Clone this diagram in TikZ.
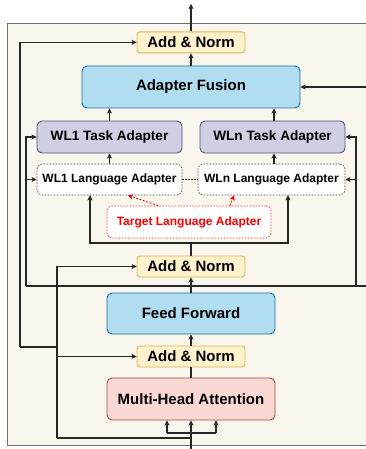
\documentclass[tikz,border=0pt]{standalone}
\usepackage{fontspec}
\setmainfont{Liberation Sans}
\usetikzlibrary{arrows.meta}
\definecolor{bgfill}{HTML}{F9F7ED}
\definecolor{bgline}{HTML}{6E6E6E}
\definecolor{normfill}{HTML}{FFF2CC}
\definecolor{normline}{HTML}{D6B656}
\definecolor{bluefill}{HTML}{B1DDF0}
\definecolor{blueline}{HTML}{10739E}
\definecolor{taskfill}{HTML}{D0CEE2}
\definecolor{taskline}{HTML}{56517E}
\definecolor{mhafill}{HTML}{FAD9D5}
\definecolor{mhaline}{HTML}{AE4132}
\definecolor{wirecol}{HTML}{262626}
\begin{document}
\begin{tikzpicture}[x=1pt,y=-1pt,
  every node/.style={inner sep=0pt},
  big/.style={font=\fontsize{15}{18}\selectfont\bfseries},
  box/.style={draw,rounded corners=5pt,line width=0.9pt},
  norm/.style={box,big,rounded corners=3pt,fill=normfill,draw=normline,minimum width=108pt,minimum height=21pt},
  bluebox/.style={box,big,fill=bluefill,draw=blueline,minimum height=42pt},
  task/.style={box,fill=taskfill,draw=taskline,minimum width=145pt,minimum height=32pt,font=\fontsize{13.6}{16}\selectfont\bfseries},
  lang/.style={box,fill=white,draw=wirecol!80,line width=0.7pt,dash pattern=on 1.6pt off 1.4pt,minimum height=31pt,font=\fontsize{12}{14}\selectfont\bfseries},
  wire/.style={line width=1.1pt,draw=wirecol},
  arr/.style={wire,-{Stealth[length=5pt,width=5pt,inset=1.2pt]}},
  redarr/.style={draw=red,line width=0.8pt,dash pattern=on 2pt off 1.5pt,-{Stealth[length=5pt,width=5pt,inset=1.2pt,fill=red]}}]
\clip (0,0) rectangle (366,449);
\fill[white] (0,0) rectangle (366,449);
\draw[bgline,fill=bgfill,line width=0.9pt] (7.5,23) rectangle (380,445);
% blocks
\node[norm] (topnorm) at (191,42.4) {Add \& Norm};
\node[bluebox,minimum width=218pt] (fusion) at (191,87) {Adapter Fusion};
\node[task] (task1) at (109.5,137) {WL1 Task Adapter};
\node[task] (taskn) at (272.5,137) {WLn Task Adapter};
\node[lang,minimum width=145pt] (lang1) at (109.5,179.5) {WL1 Language Adapter};
\node[lang,minimum width=147pt] (langn) at (271.5,179.5) {WLn Language Adapter};
\node[box,fill=white,draw=red!75,line width=0.7pt,dash pattern=on 1.6pt off 1.4pt,minimum width=164pt,minimum height=32pt,text=red,font=\fontsize{12}{14}\selectfont\bfseries] (target) at (189,222) {Target Language Adapter};
\node[norm] (midnorm) at (191,266.5) {Add \& Norm};
\node[bluebox,minimum width=168pt,minimum height=41pt] (ff) at (191,313.5) {Feed Forward};
\node[norm] (lownorm) at (191,356.5) {Add \& Norm};
\node[box,big,fill=mhafill,draw=mhaline,minimum width=168pt,minimum height=42pt] (mha) at (191,399) {Multi-Head Attention};
% wire corners
\coordinate (out) at (191,4);
\coordinate (in) at (191,449);
\coordinate (split) at (191,243);
\coordinate (railL) at (26,286);
\coordinate (railR) at (356,286);
\coordinate (railE) at (366,286);
\coordinate (fuseE) at (366,87);
\coordinate (outerL) at (20,347);
\coordinate (resL) at (57,438);
\coordinate (headL) at (167,433);
\coordinate (headR) at (216,433);
% connectors
\draw[arr] (topnorm) -- (out);
\draw[arr] (fusion) -- (topnorm);
\draw[arr] (fuseE) -- (fusion.east);
\draw[arr] (outerL) -- (outerL |- topnorm) -- (topnorm.west);
\draw[wire] (outerL) -- (outerL -| resL);
\draw[arr] (task1.north) -- (task1.north |- fusion.south);
\draw[arr] ([xshift=1.5pt]taskn.north) -- ([xshift=1.5pt]taskn.north |- fusion.south);
\draw[arr] (lang1.north) -- (task1.south);
\draw[arr] ([xshift=2.5pt]langn.north) -- ([xshift=1.5pt]taskn.south);
\draw[wirecol,line width=0.7pt,dash pattern=on 1.6pt off 1.4pt] (lang1.east) -- (langn.west);
\draw[redarr] ([xshift=-31pt]target.north) -- ([xshift=18.5pt]lang1.south);
\draw[redarr] ([xshift=41pt]target.north) -- ([xshift=-37.5pt]langn.south);
\draw[wire] (midnorm) -- (split);
\draw[arr] (split) -- (split -| 90,0) -- (90,195.2);
\draw[arr] (split) -- (split -| 288,0) -- (288,195.2);
\draw[arr] (railL) -- (railL |- task1) -- (task1.west);
\draw[arr] (railL |- lang1) -- (lang1.west);
\draw[arr] (railR) -- (railR |- taskn) -- (taskn.east);
\draw[arr] (railR |- langn) -- (langn.east);
\draw[wire] (railL) -- (railE);
\draw[arr] (ff) -- (midnorm);
\draw[arr] (lownorm) -- (ff);
\draw[wire] (mha) -- (lownorm);
\draw[arr] (resL) -- (resL |- midnorm) -- (midnorm.west);
\draw[arr] (resL |- lownorm) -- (lownorm.west);
\draw[wire] (resL) -- (resL -| in);
\draw[arr] (in) -- (mha);
\draw[wire] (headL) -- (headR);
\draw[arr] (headL) -- (headL |- mha.south);
\draw[arr] (headR) -- (headR |- mha.south);
\end{tikzpicture}
\end{document}
